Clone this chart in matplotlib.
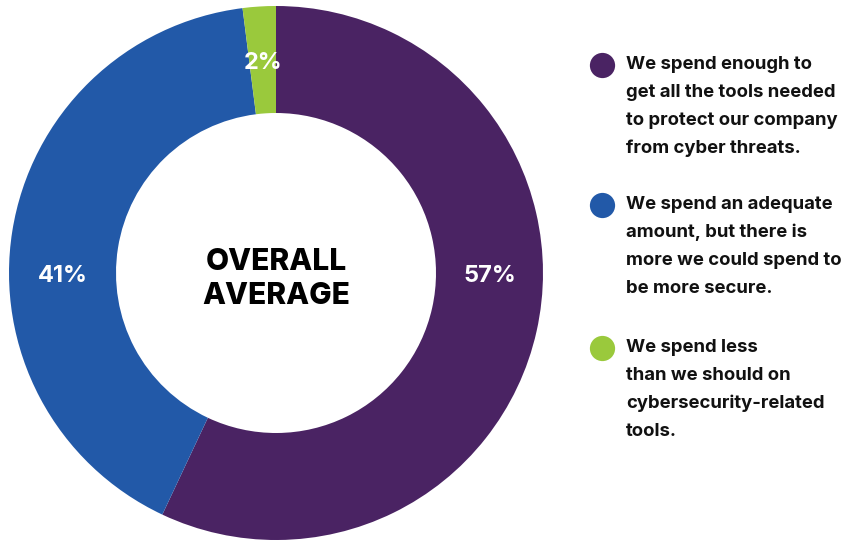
import matplotlib

matplotlib.use("Agg")
import matplotlib.pyplot as plt
import numpy as np

# Réponses à la question sur le budget cybersécurité (moyenne globale)
valeurs = [57, 41, 2]
etiquettes = ["57%", "41%", "2%"]
couleurs = ["#4A2363", "#2259A8", "#9AC93C"]
legendes = [
    "We spend enough to\nget all the tools needed\nto protect our company\nfrom cyber threats.",
    "We spend an adequate\namount, but there is\nmore we could spend to\nbe more secure.",
    "We spend less\nthan we should on\ncybersecurity-related\ntools.",
]
titre_centre = ["OVERALL", "AVERAGE"]

W, H = 848, 541
fig = plt.figure(figsize=(W / 100, H / 100), dpi=100)
ax = fig.add_axes([0, 0, 1, 1])

# Anneau : centre et rayons en pixels (y vers le haut)
cx, cy = 276, H - 273
r_ext, epaisseur = 267, 107

wedges, _ = ax.pie(
    valeurs,
    colors=couleurs,
    startangle=90,
    counterclock=False,
    radius=r_ext,
    center=(cx, cy),
    wedgeprops=dict(width=epaisseur, linewidth=0),
)
ax.set_xlim(0, W)
ax.set_ylim(0, H)
ax.set_aspect("equal")
ax.axis("off")

# Pourcentages : les deux grands à l'horizontale, le petit au milieu de sa part
r_lab = r_ext - epaisseur / 2
for w, lab in zip(wedges, etiquettes):
    mid = (w.theta1 + w.theta2) / 2
    if w.theta2 - w.theta1 > 20:
        ang = 0 if np.cos(np.radians(mid)) > 0 else 180
    else:
        ang = mid
    x = cx + r_lab * np.cos(np.radians(ang))
    y = cy + r_lab * np.sin(np.radians(ang))
    ax.text(x, y - 3, lab, color="white", fontsize=17, fontweight="bold",
            family=["Inter", "DejaVu Sans"], ha="center", va="center")

# Texte central
for i, ligne in enumerate(titre_centre):
    ax.text(cx, H - (270 + i * 34), ligne, color="black", fontsize=21.5,
            fontweight="heavy", family=["Inter", "DejaVu Sans"],
            ha="center", va="baseline")

# Légende manuelle : pastille + texte sur plusieurs lignes
y_items = [69, 209, 352]
for couleur, texte, y0 in zip(couleurs, legendes, y_items):
    ax.scatter([602], [H - (y0 - 4)], s=330, color=couleur, linewidths=0)
    for j, ligne in enumerate(texte.split("\n")):
        ax.text(626, H - (y0 + j * 28), ligne, color="#111111", fontsize=13.3,
                fontweight="bold", family=["Inter", "DejaVu Sans"],
                ha="left", va="baseline")

fig.savefig("out.png", dpi=100, facecolor="white")
